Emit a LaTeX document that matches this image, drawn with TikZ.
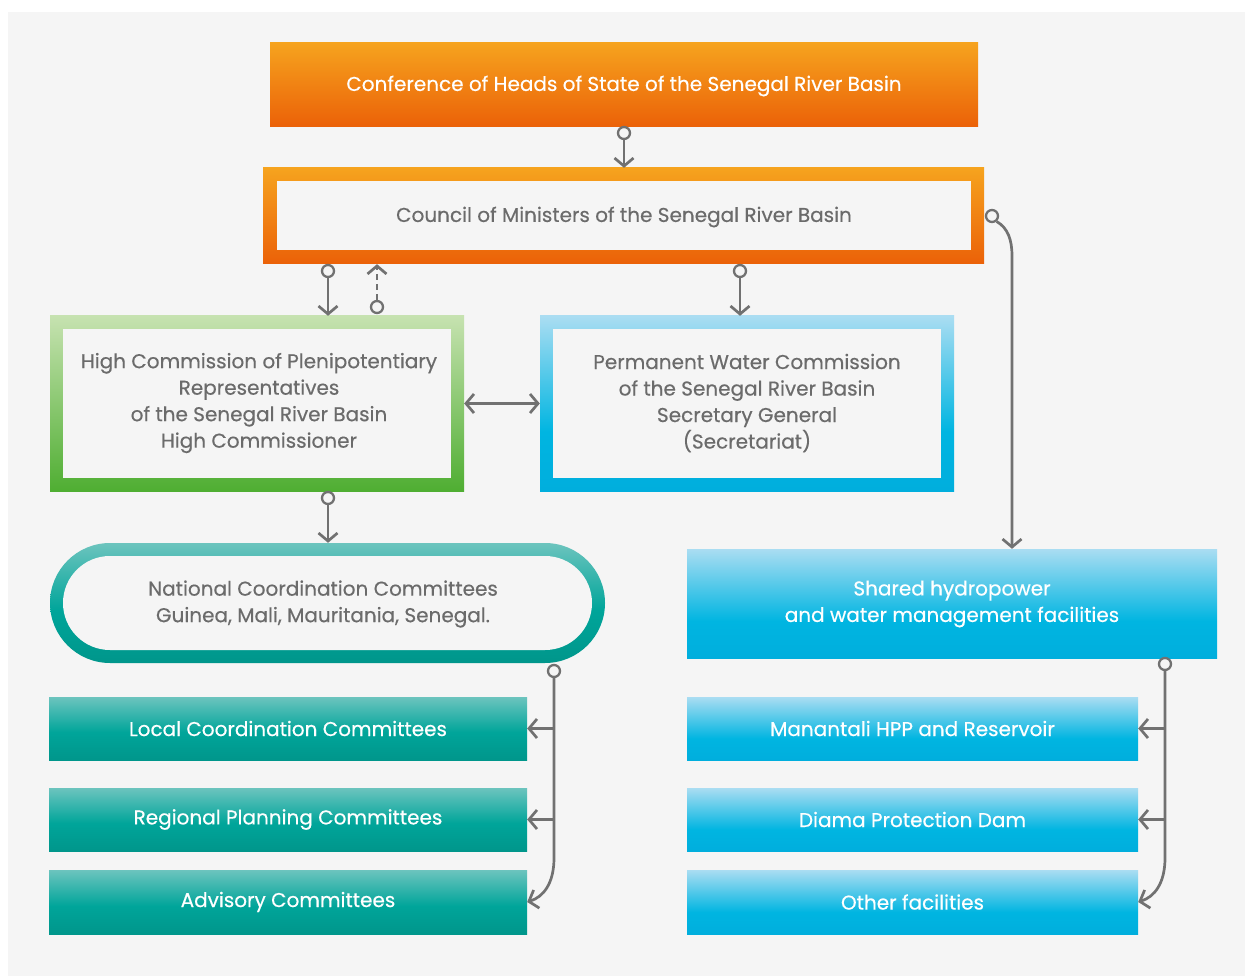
\documentclass[tikz,border=0pt]{standalone}
\usepackage{fontspec}
\setmainfont{Poppins}[FakeBold=0.4]
\usetikzlibrary{arrows.meta,calc}
\definecolor{bgc}{HTML}{F5F5F5}
\definecolor{lineg}{HTML}{717171}
\definecolor{txtg}{HTML}{6B6B6B}
\definecolor{orT}{HTML}{F6A31E}
\definecolor{orB}{HTML}{EB6108}
\definecolor{grT}{HTML}{C6E2B0}
\definecolor{grB}{HTML}{4FAE32}
\definecolor{tlL}{HTML}{6CC4BE}
\definecolor{tlM}{HTML}{00A59A}
\definecolor{tlD}{HTML}{00968B}
\definecolor{cyL}{HTML}{AADDF2}
\definecolor{cyM}{HTML}{00B5E1}
\definecolor{cyD}{HTML}{00AEDD}
\pgfdeclareverticalshading{tealsh}{100bp}{color(0bp)=(tlD); color(25bp)=(tlD); color(47bp)=(tlM); color(75bp)=(tlL); color(100bp)=(tlL)}
\pgfdeclareverticalshading{cyansh}{100bp}{color(0bp)=(cyD); color(25bp)=(cyD); color(42bp)=(cyM); color(75bp)=(cyL); color(100bp)=(cyL)}
\tikzset{
  lbl/.style={align=center, font=\fontsize{20}{26.5}\selectfont, inner sep=0pt},
  box/.style={rectangle, inner sep=0pt, lbl},
  framed/.style={path picture={\fill[bgc] ([shift={(#1pt,-#1pt)}]path picture bounding box.north west) rectangle ([shift={(-#1pt,#1pt)}]path picture bounding box.south east);}},
  pillframe/.style={path picture={\fill[bgc, rounded corners=47pt] ([shift={(13pt,-13pt)}]path picture bounding box.north west) rectangle ([shift={(-13pt,13pt)}]path picture bounding box.south east);}},
  orangebox/.style={box, top color=orT, bottom color=orB},
  greenbox/.style={box, top color=grT, bottom color=grB},
  tealbox/.style={box, shade, shading=tealsh, text=white},
  cyanbox/.style={box, shade, shading=cyansh, text=white},
  conn/.style={draw=lineg, line width=2.7pt, -{Straight Barb[length=8pt,width=19pt]}},
  dconn/.style={draw=lineg, line width=2.7pt, {Straight Barb[length=8pt,width=19pt]}-{Straight Barb[length=8pt,width=19pt]}},
  dot/.style={circle, draw=lineg, line width=2.3pt, fill=bgc, inner sep=0pt, minimum size=12pt},
}
\begin{document}
\begin{tikzpicture}[x=1pt,y=-1pt]
\useasboundingbox (0,0) rectangle (1245,976);
\fill[white] (0,0) rectangle (1245,976);
\fill[bgc] (8,12) rectangle (1245,976);

% top boxes
\node[orangebox, text=white, minimum width=708pt, minimum height=84pt] (conf) at (624,85) {};
\node[lbl, text=white] at (624,86) {Conference of Heads of State of the Senegal River Basin};
\node[orangebox, text=txtg, framed=13.5, minimum width=721pt, minimum height=96pt] (council) at (623.5,216) {};
\node[lbl, text=txtg] at (624,217) {Council of Ministers of the Senegal River Basin};
\node[greenbox, text=txtg, framed=13, minimum width=414pt, minimum height=175pt] (hc) at (257,403.5) {};
\node[lbl, text=txtg] at (259,403) {High Commission of Plenipotentiary\\Representatives\\of the Senegal River Basin\\High Commissioner};
\node[cyanbox, text=txtg, framed=13, minimum width=414pt, minimum height=175pt] (perm) at (747,403.5) {};
\node[lbl, text=txtg] at (747,403) {Permanent Water Commission\\of the Senegal River Basin\\Secretary General\\(Secretariat)};
\node[tealbox, rounded corners=60pt, pillframe, minimum width=555pt, minimum height=120pt] (nat) at (327.5,603) {};
\node[lbl, text=txtg] at (323,604) {National Coordination Committees\\Guinea, Mali, Mauritania, Senegal.};
\node[cyanbox, minimum width=530pt, minimum height=109pt] (shared) at (952,603.5) {};
\node[lbl, text=white] at (952,604) {Shared hydropower\\and water management facilities};

% lists
\node[tealbox, minimum width=478pt, minimum height=63pt] (loc1) at (288,728.5) {Local Coordination Committees};
\node[tealbox, minimum width=478pt, minimum height=63pt] (loc2) at (288,819.5) {Regional Planning Committees};
\node[tealbox, minimum width=478pt, minimum height=64pt] (loc3) at (288,902) {Advisory Committees};
\node[cyanbox, minimum width=451pt, minimum height=63pt] (fac1) at (912.5,728.5) {Manantali HPP and Reservoir};
\node[cyanbox, minimum width=451pt, minimum height=63pt] (fac2) at (912.5,819.5) {Diama Protection Dam};
\node[cyanbox, minimum width=451pt, minimum height=64pt] (fac3) at (912.5,902) {Other facilities};

% connectors
\node[dot] (c1) at (624,133) {};
\draw[conn] (c1) -- (c1 |- council.north);
\node[dot] (c2) at (328,271) {};
\draw[conn] (c2) -- (c2 |- hc.north);
\node[dot] (c3) at (377,307) {};
\draw[conn, dash pattern=on 6pt off 4pt] (c3) -- (c3 |- council.south);
\node[dot] (c4) at (740,271) {};
\draw[conn] (c4) -- (c4 |- perm.north);
\node[dot] (c5) at (992,216) {};
\coordinate (k1) at (1012,256);
\draw[conn] (c5.-50) .. controls (1008,228) and (1012,240) .. (k1) -- (k1 |- shared.north);
\draw[dconn] (hc.east) -- (perm.west);
\node[dot] (c6) at (328,498) {};
\draw[conn] (c6) -- (c6 |- nat.north);

\node[dot] (c7) at (554,671) {};
\coordinate (k2) at (554,858);
\draw[conn] (c7) -- (k2) .. controls (554,884) and (543,897) .. (loc3.east);
\draw[conn] (c7 |- loc1.east) -- (loc1.east);
\draw[conn] (c7 |- loc2.east) -- (loc2.east);

\node[dot] (c8) at (1165,664) {};
\coordinate (k3) at (1165,858);
\draw[conn] (c8) -- (k3) .. controls (1165,884) and (1154,897) .. (fac3.east);
\draw[conn] (c8 |- fac1.east) -- (fac1.east);
\draw[conn] (c8 |- fac2.east) -- (fac2.east);
\end{tikzpicture}
\end{document}
